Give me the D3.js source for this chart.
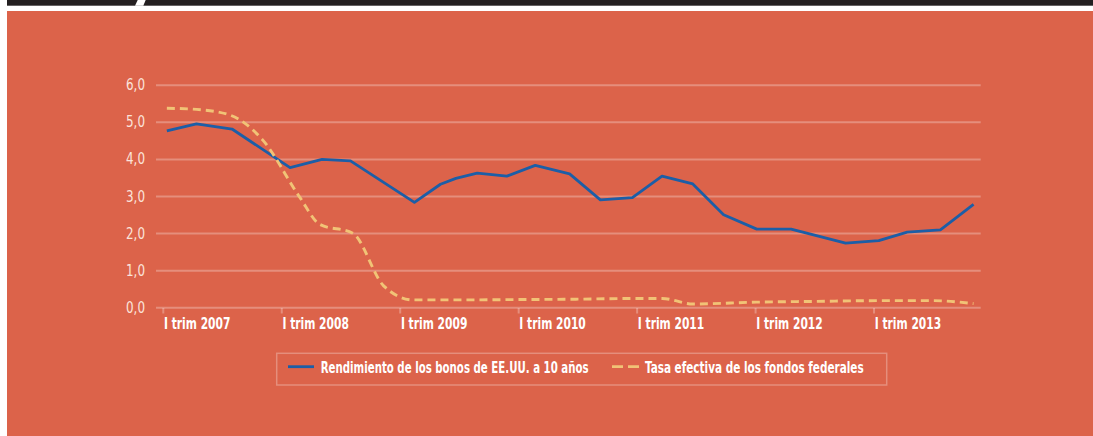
<!DOCTYPE html>
<html>
<head>
<meta charset="utf-8">
<script src="https://cdn.jsdelivr.net/npm/d3@7"></script>
<style>
  html, body { margin: 0; padding: 0; background: #fff; }
  svg { display: block; }
  text { font-family: "Liberation Sans Narrow", "DejaVu Sans Condensed", "Roboto", sans-serif; }
</style>
</head>
<body>
<svg id="chart" width="1093" height="436"></svg>
<script>
// periodos en años decimales
const periodos = [2007.03, 2007.28, 2007.58, 2008.07, 2008.34, 2008.58, 2009.12, 2009.34, 2009.47, 2009.65,
  2009.90, 2010.14, 2010.43, 2010.69, 2010.96, 2011.21, 2011.47, 2011.73, 2012.01, 2012.30,
  2012.76, 2013.04, 2013.28, 2013.56, 2013.84];
const bonos10 = [4.77, 4.96, 4.82, 3.78, 4.00, 3.96, 2.84, 3.33, 3.49, 3.63,
  3.55, 3.84, 3.61, 2.91, 2.97, 3.55, 3.34, 2.51, 2.12, 2.12,
  1.74, 1.81, 2.04, 2.10, 2.79];

const periodosFed = [2007.03, 2007.28, 2007.56, 2007.84, 2008.15, 2008.32, 2008.60, 2008.86, 2009.11, 2009.50,
  2010.00, 2010.50, 2011.00, 2011.21, 2011.47, 2012.01, 2012.50, 2013.05, 2013.50, 2013.84];
const fondosFed = [5.38, 5.35, 5.20, 4.52, 2.99, 2.25, 2.01, 0.59, 0.21, 0.21,
  0.22, 0.23, 0.25, 0.25, 0.10, 0.15, 0.17, 0.19, 0.19, 0.11];

const anios = [2007, 2008, 2009, 2010, 2011, 2012, 2013];
const tickLabels = anios.map(a => `I trim ${a}`);
const yTicks = [0, 1, 2, 3, 4, 5, 6];
const leyenda = ["Rendimiento de los bonos de EE.UU. a 10 años", "Tasa efectiva de los fondos federales"];

const bg = "#dc634a";
const blue = "#1c5ea7";
const yellow = "#f1c376";
const grid = "rgba(255,255,255,0.28)";

const svg = d3.select("#chart");

// texto estrechado horizontalmente hasta un ancho dado
function narrowText(sel, px, py, width, anchor) {
  sel.attr("x", 0).attr("y", 0);
  const w = sel.node().getComputedTextLength();
  const k = width / w;
  const x0 = anchor === "end" ? px - width : px;
  sel.attr("transform", `translate(${x0},${py}) scale(${k},1)`);
}

// marco
svg.append("rect").attr("x", 7).attr("y", 0).attr("width", 1086).attr("height", 5.7).attr("fill", "#231f20");
svg.append("polygon").attr("points", "137.7,0 145.7,0 143.3,5.7 135,5.7").attr("fill", "#fff");
svg.append("rect").attr("x", 7).attr("y", 11).attr("width", 1086).attr("height", 425).attr("fill", bg);

const x = d3.scaleLinear().domain([2007, 2014]).range([163.3, 992.5]);
const y = d3.scaleLinear().domain([0, 6]).range([307.7, 85.3]);

// rejilla
svg.append("g").selectAll("line").data(yTicks).join("line")
  .attr("x1", 156).attr("x2", 980.7)
  .attr("y1", d => y(d)).attr("y2", d => y(d))
  .attr("stroke", grid).attr("stroke-width", 2);

svg.append("g").selectAll("text").data(yTicks).join("text")
  .attr("font-size", 15).attr("fill", "#fbe3da")
  .text(d => d3.format(".1f")(d).replace(".", ","))
  .each(function (d) { narrowText(d3.select(this), 145, y(d) + 5, 19, "end"); });

// eje x
const xt = svg.append("g");
xt.selectAll("line").data(anios).join("line")
  .attr("x1", d => x(d)).attr("x2", d => x(d))
  .attr("y1", 308).attr("y2", 313.5)
  .attr("stroke", grid).attr("stroke-width", 2);
xt.selectAll("text").data(anios).join("text")
  .attr("font-size", 15).attr("font-weight", "bold").attr("fill", "#fff")
  .text((d, i) => tickLabels[i])
  .each(function (d) { narrowText(d3.select(this), x(d) + 0.7, 328.5, 66.5); });

// series
const lineBonos = d3.line().x((d, i) => x(periodos[i])).y(d => y(d));
svg.append("path").datum(bonos10)
  .attr("d", lineBonos)
  .attr("fill", "none").attr("stroke", blue).attr("stroke-width", 2.8)
  .attr("stroke-linejoin", "round");

const lineFed = d3.line().curve(d3.curveMonotoneX).x((d, i) => x(periodosFed[i])).y(d => y(d));
svg.append("path").datum(fondosFed)
  .attr("d", lineFed)
  .attr("fill", "none").attr("stroke", yellow).attr("stroke-width", 2.9)
  .attr("stroke-dasharray", "8,5");

// leyenda
const lg = svg.append("g");
lg.append("rect").attr("x", 276.7).attr("y", 353.3).attr("width", 610).attr("height", 31.7)
  .attr("fill", "none").attr("stroke", grid).attr("stroke-width", 1.5);
lg.append("line").attr("x1", 288).attr("x2", 314).attr("y1", 366.7).attr("y2", 366.7)
  .attr("stroke", blue).attr("stroke-width", 2.8);
lg.append("line").attr("x1", 612).attr("x2", 639).attr("y1", 366.7).attr("y2", 366.7)
  .attr("stroke", yellow).attr("stroke-width", 2.8).attr("stroke-dasharray", "11,5");
narrowText(lg.append("text").attr("font-size", 15).attr("font-weight", "bold")
  .attr("fill", "#fff").text(leyenda[0]), 320.7, 373, 268);
narrowText(lg.append("text").attr("font-size", 15).attr("font-weight", "bold")
  .attr("fill", "#fff").text(leyenda[1]), 645, 373, 219);
</script>
</body>
</html>
